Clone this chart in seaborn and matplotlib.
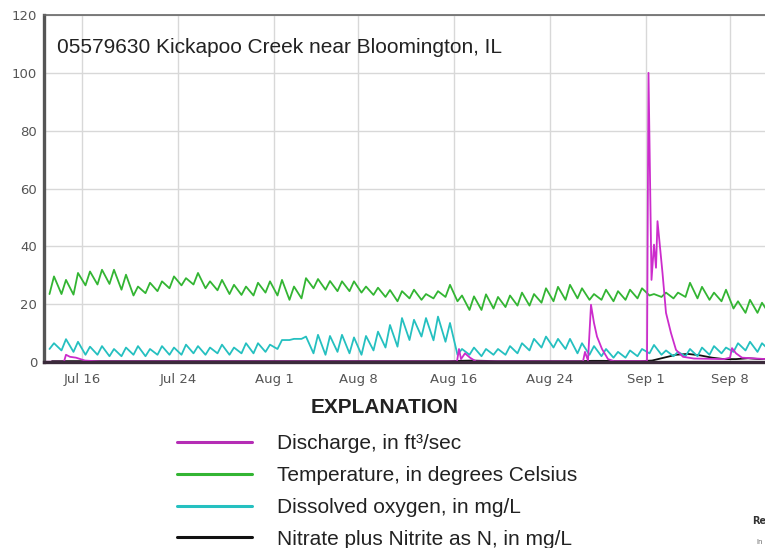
import pandas as pd
import matplotlib
matplotlib.use("Agg")
import matplotlib.pyplot as plt
from matplotlib.lines import Line2D
import seaborn as sns

# daily readings, Jul 13 .. Sep 11 (afternoon peak / early morning low)
days = pd.date_range("2018-07-13", "2018-09-11", freq="D")

temp_peak = [29.6, 28.4, 30.8, 31.3, 31.9, 31.9, 30.2, 26.1, 27.4, 27.9,
             29.6, 29.0, 30.8, 27.9, 28.4, 26.7, 26.1, 27.4, 27.9, 28.4,
             26.1, 29.0, 28.7, 28.0, 27.9, 27.9, 26.1, 25.7, 24.9, 24.5,
             25.0, 23.5, 24.5, 26.7, 23.0, 22.7, 23.4, 22.5, 23.0, 24.0,
             23.5, 25.5, 26.0, 26.7, 25.5, 23.5, 25.0, 24.5, 25.0, 25.5,
             23.5, 24.0, 24.0, 27.4, 26.0, 24.0, 25.0, 21.0, 21.5, 20.5,
             19.5]
temp_low = [23.5, 23.5, 23.3, 26.5, 26.8, 27.0, 25.0, 23.0, 23.8, 24.5,
            25.5, 26.5, 26.8, 25.5, 24.8, 23.5, 23.2, 23.0, 24.0, 23.0,
            21.5, 22.0, 25.5, 25.0, 24.5, 24.5, 24.0, 23.2, 22.5, 21.0,
            22.0, 21.5, 22.0, 22.5, 21.0, 18.0, 18.0, 18.5, 19.0, 19.5,
            19.5, 20.5, 21.0, 21.5, 22.0, 21.5, 21.5, 21.0, 21.5, 22.0,
            23.0, 22.5, 22.0, 22.5, 22.0, 21.5, 21.0, 18.5, 17.0, 17.0,
            16.5]

do_peak = [6.5, 7.9, 7.0, 5.3, 5.5, 4.5, 5.0, 5.5, 4.5, 5.5,
           5.0, 6.0, 5.5, 5.0, 6.0, 5.0, 6.5, 6.5, 6.0, 7.6,
           8.0, 8.8, 9.4, 9.0, 9.4, 8.5, 9.0, 10.5, 12.8, 15.2,
           14.6, 15.2, 15.7, 13.5, 4.5, 5.0, 4.5, 4.5, 5.5, 6.5,
           8.0, 8.8, 8.0, 8.0, 6.5, 5.5, 4.5, 3.5, 4.0, 4.5,
           5.9, 4.0, 3.5, 4.5, 5.0, 5.5, 5.0, 6.5, 7.0, 6.5,
           6.5]
do_low = [4.5, 4.0, 3.5, 2.5, 2.5, 2.0, 2.0, 2.5, 2.0, 2.5,
          2.5, 2.5, 3.0, 2.5, 3.0, 2.5, 3.0, 3.0, 3.5, 4.5,
          7.6, 8.0, 3.0, 2.5, 3.5, 3.0, 2.5, 4.0, 5.0, 5.3,
          7.6, 8.8, 7.5, 7.0, 2.5, 2.5, 2.0, 2.5, 2.5, 3.0,
          4.0, 5.0, 5.0, 4.5, 3.0, 2.5, 2.0, 1.5, 1.5, 2.0,
          3.0, 2.5, 2.0, 2.0, 2.0, 2.5, 3.0, 3.5, 4.0, 3.5,
          4.0]

nitrate = [0.3, 0.3, 0.3, 0.3, 0.3, 0.3, 0.3, 0.3, 0.3, 0.3,
           0.3, 0.3, 0.3, 0.3, 0.3, 0.3, 0.3, 0.3, 0.3, 0.3,
           0.3, 0.3, 0.3, 0.3, 0.3, 0.3, 0.3, 0.3, 0.3, 0.3,
           0.3, 0.3, 0.3, 0.3, 0.4, 0.5, 0.4, 0.3, 0.3, 0.3,
           0.3, 0.3, 0.3, 0.3, 0.3, 0.4, 0.4, 0.3, 0.3, 0.3,
           0.5, 1.5, 2.5, 2.8, 2.3, 1.5, 1.0, 1.0, 1.3, 1.0,
           1.0]

# discharge is flat near zero apart from storm events
discharge_times = ["2018-07-12 20:00", "2018-07-14 12:00", "2018-07-14 16:00",
                   "2018-07-15 00:00", "2018-07-15 12:00", "2018-07-16 06:00",
                   "2018-07-17 12:00", "2018-08-16 06:00", "2018-08-16 10:00",
                   "2018-08-16 14:00", "2018-08-16 22:00", "2018-08-17 08:00",
                   "2018-08-17 20:00", "2018-08-26 18:00", "2018-08-26 22:00",
                   "2018-08-27 04:00", "2018-08-27 10:00", "2018-08-27 16:00",
                   "2018-08-27 22:00", "2018-08-28 08:00", "2018-08-28 20:00",
                   "2018-08-29 08:00", "2018-09-01 02:00", "2018-09-01 05:00",
                   "2018-09-01 11:00", "2018-09-01 16:00", "2018-09-01 20:00",
                   "2018-09-01 23:00", "2018-09-02 09:00", "2018-09-02 16:00",
                   "2018-09-03 02:00", "2018-09-03 12:00", "2018-09-04 02:00",
                   "2018-09-05 00:00", "2018-09-07 12:00", "2018-09-08 00:00",
                   "2018-09-08 04:00", "2018-09-08 12:00", "2018-09-09 00:00",
                   "2018-09-11 00:00"]
discharge_vals = [0.1, 0.1, 2.5, 1.8, 1.5, 0.5, 0.2, 0.2, 4.5, 1.0,
                  3.0, 1.5, 0.2, 0.2, 3.5, 0.5, 19.8, 13.5, 8.8, 4.5,
                  1.0, 0.3, 0.3, 100.0, 28.4, 40.6, 32.6, 48.7, 30.8, 17.0,
                  10.0, 4.2, 1.8, 1.2, 1.0, 1.5, 4.8, 3.0, 1.5, 1.0]

tick_dates = ["2018-07-16", "2018-07-24", "2018-08-01", "2018-08-08",
              "2018-08-16", "2018-08-24", "2018-09-01", "2018-09-08"]
tick_labels = ["Jul 16", "Jul 24", "Aug 1", "Aug 8", "Aug 16", "Aug 24", "Sep 1", "Sep 8"]

series_names = ["Discharge, in ft\u00b3/sec", "Temperature, in degrees Celsius",
                "Dissolved oxygen, in mg/L", "Nitrate plus Nitrite as N, in mg/L"]
colors = ["#cc2ccc", "#33b533", "#25c0c0", "#111111"]
legend_colors = ["#b52db5", "#33b533", "#25c0c0", "#111111"]


def diurnal(lows, peaks):
    rows = []
    for d, lo, hi in zip(days, lows, peaks):
        rows.append((d + pd.Timedelta(hours=7), lo))
        rows.append((d + pd.Timedelta(hours=16), hi))
    return rows


frames = []
frames.append(pd.DataFrame({"time": pd.to_datetime(discharge_times),
                            "value": discharge_vals, "series": series_names[0]}))
t = diurnal(temp_low, temp_peak)
frames.append(pd.DataFrame({"time": [r[0] for r in t], "value": [r[1] for r in t],
                            "series": series_names[1]}))
o = diurnal(do_low, do_peak)
frames.append(pd.DataFrame({"time": [r[0] for r in o], "value": [r[1] for r in o],
                            "series": series_names[2]}))
frames.append(pd.DataFrame({"time": days + pd.Timedelta(hours=12), "value": nitrate,
                            "series": series_names[3]}))
df = pd.concat(frames, ignore_index=True)

sns.set_theme(style="whitegrid")
narrow = ["Liberation Sans", "DejaVu Sans"]

fig = plt.figure(figsize=(7.65, 5.48), dpi=100)
ax = fig.add_axes([0.0575, 0.3394, 0.9425, 0.6332])

# draw nitrate first so it sits under the others
order = [series_names[3], series_names[2], series_names[1], series_names[0]]
for name in order:
    i = series_names.index(name)
    sns.lineplot(data=df[df["series"] == name], x="time", y="value",
                 color=colors[i], linewidth=1.3, estimator=None, ax=ax, legend=False)

ax.set_xlim(pd.Timestamp("2018-07-12 20:00"), pd.Timestamp("2018-09-10 22:00"))
ax.set_ylim(0, 120)
ax.set_yticks(range(0, 121, 20))
ax.set_xticks(pd.to_datetime(tick_dates))
ax.set_xticklabels(tick_labels)
ax.set_xlabel("")
ax.set_ylabel("")
ax.grid(True, color="#d8d8d8", linewidth=1.0)
ax.tick_params(axis="both", length=0, labelsize=9.5, labelcolor="#555555")
ax.tick_params(axis="x", pad=8)
ax.tick_params(axis="y", pad=5)

ax.spines["left"].set_color("#555555")
ax.spines["left"].set_linewidth(2.4)
ax.spines["bottom"].set_color("#3b2a3b")
ax.spines["bottom"].set_linewidth(2.4)
ax.spines["top"].set_color("#666666")
ax.spines["top"].set_linewidth(1.2)
ax.spines["right"].set_visible(False)

ax.text(0.018, 0.905, "05579630 Kickapoo Creek near Bloomington, IL",
        transform=ax.transAxes, fontsize=15, family=narrow, color="#222222",
        va="center", ha="left")

fig.text(0.503, 0.2555, "EXPLANATION", fontsize=15, fontweight="bold",
         family=narrow, color="#222222", ha="center", va="center")

handles = [Line2D([], [], color=c, linewidth=2.2) for c in legend_colors]
fig.legend(handles, series_names, loc="upper left", bbox_to_anchor=(0.2314, 0.208),
           frameon=False, borderpad=0, borderaxespad=0, handlelength=3.6,
           handletextpad=1.2, labelspacing=0.62, prop={"family": narrow, "size": 15},
           labelcolor="#222222")

fig.text(0.983, 0.05, "Re", fontsize=7, fontweight="bold", color="#333333",
         ha="left", va="center")
fig.text(0.989, 0.005, "In", fontsize=5, color="#666666", ha="left", va="bottom")

fig.savefig("out.png", dpi=100)
